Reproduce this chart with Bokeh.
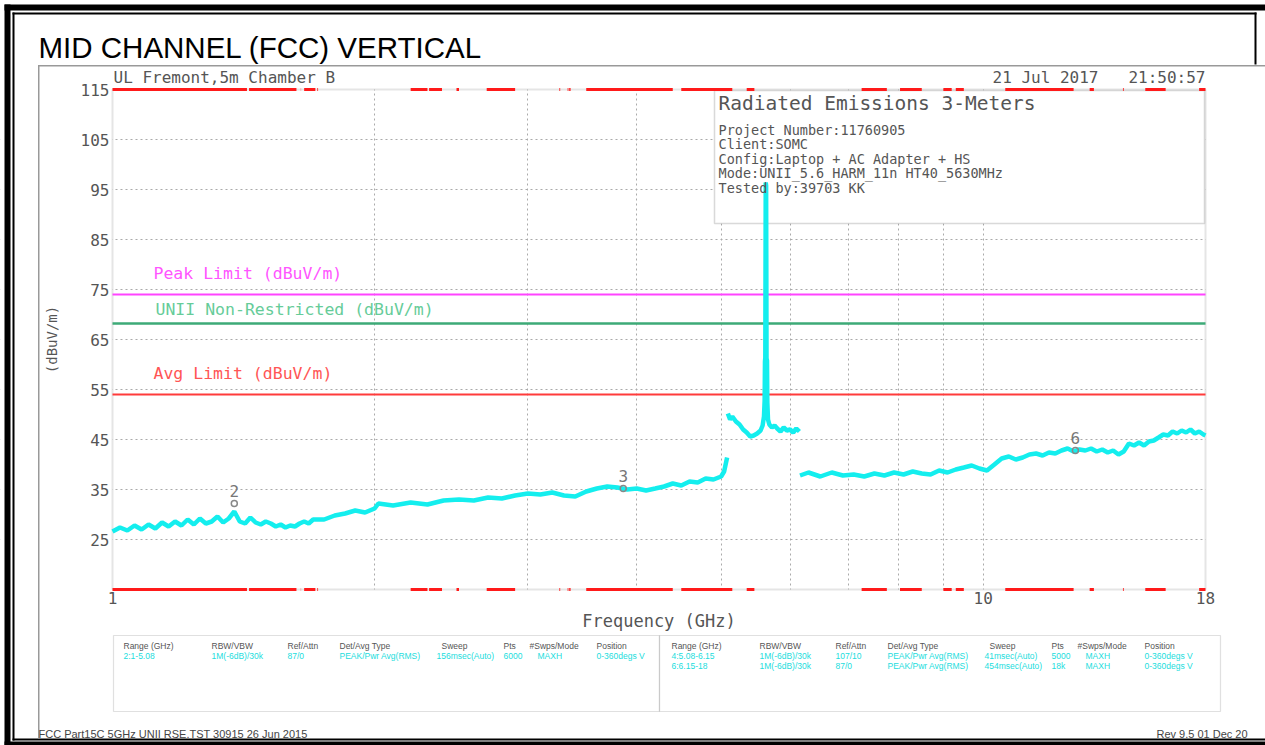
from math import log10
from bokeh.plotting import figure
from bokeh.models import (Range1d, FixedTicker, NumeralTickFormatter, Label, LabelSet,
                          BoxAnnotation, ColumnDataSource, LogAxis, LinearAxis)
from bokeh.core.properties import value
from bokeh.embed import file_html
from bokeh.resources import INLINE

# ---------------- data ----------------
seg1_freq = [1.00, 1.02, 1.04, 1.06, 1.08, 1.10, 1.12, 1.14, 1.16, 1.18, 1.20, 1.22, 1.24, 1.26,
             1.28, 1.30, 1.32, 1.34, 1.36, 1.38, 1.40, 1.42, 1.44, 1.46, 1.48, 1.50, 1.52, 1.54,
             1.56, 1.58, 1.60, 1.62, 1.64, 1.66, 1.68, 1.70, 1.75, 1.80, 1.85, 1.90, 1.95, 2.00,
             2.02, 2.10, 2.20, 2.30, 2.40, 2.50, 2.60, 2.70, 2.80, 2.90, 3.00, 3.10, 3.20, 3.30,
             3.40, 3.50, 3.60, 3.70, 3.80, 3.90, 4.00, 4.10, 4.20, 4.30, 4.40, 4.50, 4.60, 4.70,
             4.80, 4.90, 5.00, 5.04, 5.06, 5.08]
seg1_level = [26.6, 27.4, 26.8, 27.8, 27.0, 28.0, 27.2, 28.4, 27.6, 28.6, 27.8, 29.0, 28.0, 29.2,
              28.2, 28.6, 29.6, 28.4, 29.2, 30.6, 28.6, 28.2, 29.4, 28.4, 28.0, 28.6, 28.2, 27.6,
              28.0, 27.4, 27.8, 27.6, 28.2, 28.6, 28.2, 29.0, 29.0, 29.8, 30.2, 30.8, 30.4, 31.2,
              32.2, 31.8, 32.4, 32.0, 32.8, 33.0, 32.8, 33.4, 33.2, 33.8, 34.2, 34.0, 34.4, 33.8,
              33.6, 34.6, 35.2, 35.6, 35.4, 35.0, 35.2, 34.8, 35.2, 35.6, 36.2, 35.8, 36.6, 36.4,
              37.2, 37.0, 37.6, 38.6, 40.0, 41.4]

seg2_freq = [5.09, 5.12, 5.15, 5.20, 5.25, 5.30, 5.35, 5.40, 5.45, 5.50, 5.55, 5.58, 5.60, 5.61,
             5.615, 5.62, 5.626, 5.632, 5.638, 5.645, 5.65, 5.66, 5.68, 5.72, 5.76, 5.80, 5.85,
             5.90, 5.95, 6.00, 6.05, 6.10, 6.15]
seg2_level = [50.2, 49.0, 49.6, 48.6, 48.0, 47.0, 46.4, 45.6, 45.8, 46.2, 46.8, 47.8, 49.6, 52.8,
              60.6, 61.4, 96.4, 95.8, 61.2, 60.8, 52.4, 49.0, 48.0, 47.4, 47.8, 47.2, 46.6,
              47.4, 46.8, 47.0, 46.4, 47.2, 46.6]

seg3_freq = [6.16, 6.3, 6.5, 6.7, 6.9, 7.1, 7.3, 7.5, 7.7, 7.9, 8.1, 8.3, 8.5, 8.7, 8.9, 9.1, 9.3,
             9.5, 9.7, 9.9, 10.1, 10.3, 10.5, 10.7, 10.9, 11.1, 11.3, 11.5, 11.7, 11.9, 12.1, 12.3,
             12.5, 12.7, 12.9, 13.1, 13.3, 13.5, 13.7, 13.9, 14.1, 14.3, 14.5, 14.7, 14.9, 15.1,
             15.3, 15.5, 15.7, 15.9, 16.1, 16.3, 16.5, 16.7, 16.9, 17.1, 17.3, 17.5, 17.7, 17.9, 18.0]
seg3_level = [37.8, 38.4, 37.6, 38.4, 37.8, 38.0, 37.6, 38.2, 37.8, 38.4, 38.0, 38.6, 38.2, 38.0,
              38.8, 38.4, 39.0, 39.4, 39.8, 39.2, 38.8, 40.0, 41.2, 41.6, 41.0, 41.4, 42.0, 42.2,
              41.8, 42.4, 42.2, 42.8, 43.2, 42.6, 43.0, 42.8, 43.2, 42.6, 43.0, 42.4, 42.8, 42.0,
              42.6, 44.2, 43.8, 44.4, 43.8, 44.6, 44.8, 45.4, 46.0, 45.8, 46.6, 46.2, 46.8, 46.4,
              47.0, 46.2, 46.6, 46.0, 45.8]

marker_freq = [1.38, 3.86, 12.76]
marker_level = [32.2, 35.2, 42.8]
marker_label = ["2", "3", "6"]

band_start = [1.0, 1.435, 1.6455, 1.66, 1.7188, 2.2, 2.31, 2.4835, 2.69, 3.26, 3.332, 3.3458,
              3.5, 4.5, 5.35, 7.25, 8.025, 9.0, 9.3, 10.6, 13.25, 14.47, 15.35, 17.7]
band_stop = [1.427, 1.6265, 1.6465, 1.71, 1.7222, 2.3, 2.39, 2.5, 2.9, 3.267, 3.339, 3.358,
             4.4, 5.15, 5.46, 7.75, 8.5, 9.2, 9.5, 12.7, 13.4, 14.5, 16.2, 18.0]

peak_limit = 74.0
unii_limit = 68.2
avg_limit = 54.0

x_lo, x_hi = 1, 18
y_lo, y_hi = 15, 115
x_tick_values = [1, 10, 18]
x_grid_values = [2, 3, 4, 5, 6, 7, 8, 9, 10]
y_tick_values = [25, 35, 45, 55, 65, 75, 85, 95, 105, 115]
y_grid_values = [25, 35, 45, 55, 65, 75, 85, 95, 105]

title_text = "MID CHANNEL (FCC) VERTICAL"
site_text = "UL Fremont,5m Chamber B"
date_text = "21 Jul 2017"
time_text = "21:50:57"
info_title = "Radiated Emissions 3-Meters"
info_lines = ["Project Number:11760905", "Client:SOMC", "Config:Laptop + AC Adapter + HS",
              "Mode:UNII_5.6_HARM_11n HT40_5630MHz", "Tested by:39703 KK"]
table_header = ["Range (GHz)", "RBW/VBW", "Ref/Attn", "Det/Avg Type", "Sweep", "Pts",
                "#Swps/Mode", "Position"]
table_left_rows = [["2:1-5.08", "1M(-6dB)/30k", "87/0", "PEAK/Pwr Avg(RMS)", "156msec(Auto)",
                    "6000", "MAXH", "0-360degs V"]]
table_right_rows = [["4:5.08-6.15", "1M(-6dB)/30k", "107/10", "PEAK/Pwr Avg(RMS)", "41msec(Auto)",
                     "5000", "MAXH", "0-360degs V"],
                    ["6:6.15-18", "1M(-6dB)/30k", "87/0", "PEAK/Pwr Avg(RMS)", "454msec(Auto)",
                     "18k", "MAXH", "0-360degs V"]]
footer_left = "FCC Part15C 5GHz UNII RSE.TST 30915 26 Jun 2015"
footer_right = "Rev 9.5 01 Dec 20"

# ---------------- layout (page pixels; canvas starts at page origin) ----------------
MONO = "DejaVu Sans Mono"
SANS = "Liberation Sans"
W, H = 1265, 745
PL, PR, PT, PB = 112, 1205, 89, 589          # plot area
dec_per_px = (log10(x_hi) - log10(x_lo)) / (PR - PL)
x_start = 10 ** (log10(x_lo) - PL * dec_per_px)
x_end = 10 ** (log10(x_lo) + (W - PL) * dec_per_px)
db_per_px = (y_hi - y_lo) / (PB - PT)
y_top = y_hi + PT * db_per_px
y_bot = y_hi - (H - PT) * db_per_px


def sx(px):
    return px


def sy(py):
    return H - py


p = figure(width=W, height=H, x_axis_type="log", x_axis_location=None, y_axis_location=None,
           x_range=Range1d(x_start, x_end), y_range=Range1d(y_bot, y_top), min_border=0,
           output_backend="svg", toolbar_location=None)
p.title.visible = False
p.background_fill_color = "white"
p.border_fill_color = "white"
p.outline_line_color = None

p.xgrid.ticker = FixedTicker(ticks=x_grid_values)
p.ygrid.ticker = FixedTicker(ticks=y_grid_values)
p.grid.grid_line_color = "#aaaaaa"
p.grid.grid_line_dash = "2 3"
p.grid.grid_line_width = 1

# axes fixed to the plot-area edges
xaxis = LogAxis(fixed_location=y_lo, bounds=(x_lo, x_hi), ticker=FixedTicker(ticks=x_tick_values),
                formatter=NumeralTickFormatter(format="0"), axis_label="Frequency (GHz)")
yaxis = LinearAxis(fixed_location=x_lo, bounds=(y_lo, y_hi),
                   ticker=FixedTicker(ticks=y_tick_values), axis_label="(dBuV/m)")
for ax in (xaxis, yaxis):
    ax.major_tick_in = 0
    ax.major_tick_out = 0
    ax.minor_tick_in = 0
    ax.minor_tick_out = 0
    ax.axis_line_color = None
    ax.major_label_text_font = MONO
    ax.major_label_text_font_size = "16px"
    ax.major_label_text_color = "#555555"
    ax.axis_label_text_font = MONO
    ax.axis_label_text_font_style = "normal"
    ax.axis_label_text_color = "#555555"
xaxis.major_label_standoff = 2
yaxis.major_label_standoff = 3
xaxis.axis_label_text_font_size = "17px"
yaxis.axis_label_text_font_size = "14px"
xaxis.axis_label_standoff = 4
yaxis.axis_label_standoff = 18
p.add_layout(xaxis, "below")
p.add_layout(yaxis, "left")


def mask(**kw):
    p.add_layout(BoxAnnotation(fill_color="white", fill_alpha=1.0, line_color=None,
                               level="underlay", **kw))


# white masks outside the plot area (hide grid lines there)
mask(right=x_lo)
mask(left=x_hi)
mask(bottom=y_hi)
mask(top=y_lo)
# plot outline
p.add_layout(BoxAnnotation(left=x_lo, right=x_hi, bottom=y_lo, top=y_hi, fill_alpha=0.0,
                           fill_color=None, line_color="#aaaaaa", line_width=2, level="underlay"))


def box(l, t, r, b, color=None, width=1.0, fill=None, level="annotation"):
    p.add_layout(BoxAnnotation(left=sx(l), right=sx(r), top=sy(t), bottom=sy(b),
                               left_units="screen", right_units="screen", top_units="screen",
                               bottom_units="screen", line_color=color,
                               line_width=width, fill_color=fill,
                               fill_alpha=1.0 if fill else 0.0, level=level))


def bar(l, t, r, b, color):
    box(l, t, r, b, None, 0, fill=color)


def text(px, py, s, size, color="#555555", font=MONO, align="left"):
    p.add_layout(Label(x=sx(px), y=sy(py), x_units="screen", y_units="screen", text=s,
                       text_font=font, text_font_size=f"{size}px", text_color=color,
                       text_align=align, text_baseline="middle"))


# info box (under the trace, over the grid)
box(714, 90, 1204, 223, "#808080", 1.5, fill="white", level="underlay")

# limit lines (only across the plot area)
for lvl, col, lw in ((peak_limit, "#ff44ff", 2), (unii_limit, "#3daa77", 2.5),
                     (avg_limit, "#ff3b3b", 2)):
    p.segment(x0=[x_lo], x1=[x_hi], y0=[lvl], y1=[lvl], line_color=col, line_width=lw)

# restricted bands
n = len(band_start)
for lvl in (y_hi, y_lo):
    p.segment(x0=band_start, x1=band_stop, y0=[lvl] * n, y1=[lvl] * n,
              line_color="#ff1a1a", line_width=3)

# spectrum trace
for fr, lv in ((seg1_freq, seg1_level), (seg2_freq, seg2_level), (seg3_freq, seg3_level)):
    p.line(fr, lv, line_color="#14eeee", line_width=4.5)

# markers
p.scatter(marker_freq, marker_level, marker="circle", size=6, fill_color=None,
          line_color="#888888", line_width=1.5)
msrc = ColumnDataSource(dict(f=marker_freq, l=marker_level, t=marker_label))
p.add_layout(LabelSet(x="f", y="l", text="t", source=msrc, y_offset=13, text_align="center",
                      text_baseline="middle", text_font=value(MONO), text_font_size="16px",
                      text_color="#777777"))

# limit labels
text(153, 273, "Peak Limit (dBuV/m)", 16.5, "#ff55ff")
text(155, 309, "UNII Non-Restricted (dBuV/m)", 16.5, "#66cc99")
text(153, 373, "Avg Limit (dBuV/m)", 16.5, "#ff5555")

# header texts
text(38, 47, title_text, 29.5, "#000000", SANS)
text(113, 77, site_text, 16)
text(992, 77, date_text, 16)
text(1205, 77, time_text, 16, align="right")
text(718, 103, info_title, 19.5)
for i, s in enumerate(info_lines):
    text(718, 129 + i * 14.6, s, 13.5)

# page frames: black double border and grey chart frame
bar(4, 4, 1265, 10, "#000000")
bar(4, 4, 10, 745, "#000000")
bar(4, 741, 1265, 745, "#000000")
bar(12, 12, 1256, 14, "#000000")
bar(12, 12, 14, 740, "#000000")
bar(12, 738, 1265, 740, "#000000")
bar(1254, 12, 1256, 64, "#000000")
bar(37.5, 64.5, 39, 738, "#999999")
bar(37.5, 64.5, 1265, 66, "#999999")

# settings table
box(113, 635, 659, 711, "#999999", 1.2)
box(659, 635, 1220, 711, "#999999", 1.2)
col_left = [123, 211, 287, 339, 441, 503, 529, 596]
col_left_row = [123, 211, 287, 339, 436, 503, 537, 596]
RIGHT_SHIFT = 548
tx, ty, tt, tc = [], [], [], []
for half, rows in ((0, table_left_rows), (RIGHT_SHIFT, table_right_rows)):
    for j, h in enumerate(table_header):
        tx.append(sx(col_left[j] + half)); ty.append(sy(645)); tt.append(h); tc.append("#555555")
    for r, row in enumerate(rows):
        for j, c in enumerate(row):
            tx.append(sx(col_left_row[j] + half)); ty.append(sy(655 + r * 10.5))
            tt.append(c); tc.append("#22dddd")
tsrc = ColumnDataSource(dict(x=tx, y=ty, t=tt, c=tc))
p.add_layout(LabelSet(x="x", y="y", text="t", source=tsrc, x_units="screen", y_units="screen",
                      text_color="c", text_font=value(SANS), text_font_size="8.5px",
                      text_baseline="middle"))

# footer
text(38, 733, footer_left, 11, "#444444", SANS)
text(1156, 733, footer_right, 11, "#444444", SANS)

open("out.html", "w").write(file_html(p, INLINE))
